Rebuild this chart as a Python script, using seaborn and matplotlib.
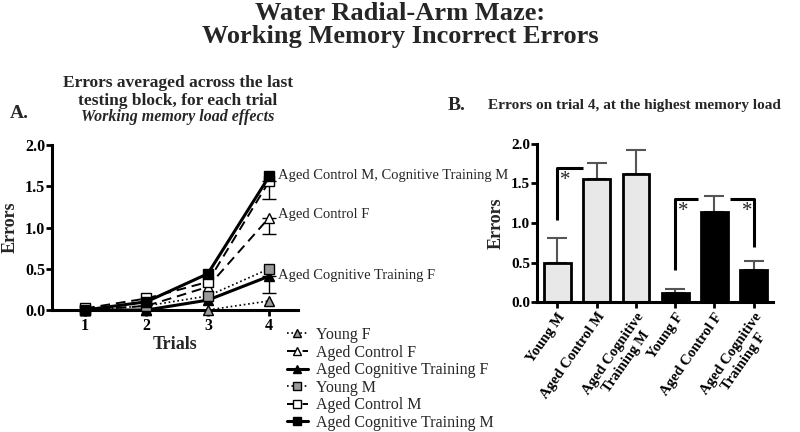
import matplotlib
matplotlib.use("Agg")
import matplotlib.pyplot as plt
import seaborn as sns
import pandas as pd
import numpy as np
from matplotlib.lines import Line2D

# ---------------- data ----------------
trials = [1, 2, 3, 4]
series_names = ["Young F", "Aged Control F", "Aged Cognitive Training F",
                "Young M", "Aged Control M", "Aged Cognitive Training M"]
young_f = [0.0, 0.0, 0.0, 0.11]
aged_control_f = [0.0, 0.05, 0.28, 1.12]
aged_cog_f = [0.0, 0.0, 0.12, 0.41]
young_m = [0.0, 0.05, 0.17, 0.50]
aged_control_m = [0.02, 0.14, 0.34, 1.56]
aged_cog_m = [0.0, 0.10, 0.44, 1.62]
# lower error at trial 4
t4_err_lower = [0.0, 0.20, 0.20, 0.0, 0.22, 0.0]

bar_labels = ["Young M", "Aged Control M", "Aged Cognitive\nTraining M",
              "Young F", "Aged Control F", "Aged Cognitive\nTraining F"]
bar_values = [0.50, 1.56, 1.62, 0.11, 1.14, 0.41]
bar_errors = [0.31, 0.20, 0.30, 0.05, 0.20, 0.11]

# ---------------- style ----------------
sns.set_theme(style="ticks")
plt.rcParams["font.family"] = ["Liberation Serif", "DejaVu Serif"]
plt.rcParams["axes.linewidth"] = 2.2
plt.rcParams["xtick.major.width"] = 2.0
plt.rcParams["ytick.major.width"] = 2.0
plt.rcParams["xtick.major.size"] = 4
plt.rcParams["ytick.major.size"] = 4
plt.rcParams["xtick.major.pad"] = 2
plt.rcParams["ytick.major.pad"] = 1
plt.rcParams["xtick.color"] = "black"
plt.rcParams["ytick.color"] = "black"
plt.rcParams["axes.edgecolor"] = "black"

W, H = 800, 432
fig = plt.figure(figsize=(8, 4.32), dpi=100)


def ftext(x, y, s, **kw):
    fig.text(x / W, 1 - y / H, s, **kw)


ftext(400, 13, "Water Radial-Arm Maze:", ha="center", va="center",
      fontsize=19, fontweight="bold")
ftext(400, 37, "Working Memory Incorrect Errors", ha="center", va="center",
      fontsize=19, fontweight="bold")

# ---------------- panel A ----------------
axA = fig.add_axes([52 / W, 1 - 310 / H, 246 / W, 165 / H])
vals = [young_f, aged_control_f, aged_cog_f, young_m, aged_control_m, aged_cog_m]
styles = [
    dict(ls=":", marker="^", mfc="#9a9a9a", lw=1.2),
    dict(ls=(0, (5, 3)), marker="^", mfc="white", lw=1.4),
    dict(ls="-", marker="^", mfc="black", lw=2.2),
    dict(ls=":", marker="s", mfc="#9a9a9a", lw=1.2),
    dict(ls=(0, (5, 3)), marker="s", mfc="white", lw=1.4),
    dict(ls="-", marker="s", mfc="black", lw=2.2),
]
rows = []
for name, v in zip(series_names, vals):
    for t, y in zip(trials, v):
        rows.append(dict(group=name, trial=t, errors=y))
dfA = pd.DataFrame(rows)

handles = []
for i, (name, st) in enumerate(zip(series_names, styles)):
    sub = dfA[dfA.group == name]
    sns.lineplot(data=sub, x="trial", y="errors", ax=axA, color="black",
                 linestyle=st["ls"], linewidth=st["lw"], marker=st["marker"],
                 markerfacecolor=st["mfc"], markeredgecolor="black",
                 markeredgewidth=1.0, markersize=7, legend=False, clip_on=False,
                 zorder=3 + i)
    if t4_err_lower[i] > 0:
        axA.errorbar([trials[-1]], [vals[i][-1]], yerr=[[t4_err_lower[i]], [0]],
                     fmt="none", ecolor="black", elinewidth=1.0, capsize=5,
                     capthick=1.0, zorder=2)
    handles.append(Line2D([0], [0], color="black", linestyle=st["ls"],
                          linewidth=st["lw"], marker=st["marker"],
                          markerfacecolor=st["mfc"], markeredgecolor="black",
                          markersize=6))

axA.set_xlim(0.46, 4.47)
axA.set_ylim(0, 2.0)
axA.set_xticks(trials)
axA.set_yticks([0, 0.5, 1.0, 1.5, 2.0])
axA.set_yticklabels(["0.0", "0.5", "1.0", "1.5", "2.0"])
for lab in axA.get_xticklabels() + axA.get_yticklabels():
    lab.set_fontweight("bold")
    lab.set_fontsize(11.5)
axA.set_xlabel("Trials", fontsize=13, fontweight="bold", labelpad=1)
axA.set_ylabel("Errors", fontsize=13, fontweight="bold")
axA.yaxis.set_label_coords((19 - 52) / 246, 0.5)
sns.despine(ax=axA)

ann_kw = dict(fontsize=10.5, ha="left", va="center", annotation_clip=False,
              textcoords="offset points")
axA.annotate("Aged Control M, Cognitive Training M", xy=(4, 1.63), xytext=(6, 0), **ann_kw)
axA.annotate("Aged Control F", xy=(4, 1.16), xytext=(6, 0), **ann_kw)
axA.annotate("Aged Cognitive Training F", xy=(4, 0.42), xytext=(6, 0), **ann_kw)

fig.legend(handles, series_names, loc="upper left",
           bbox_to_anchor=(287 / W, 1 - 327 / H),
           frameon=False, fontsize=11.5, handlelength=1.3, handletextpad=0.5,
           labelspacing=0.1, borderpad=0.0, borderaxespad=0.0)

ftext(178, 83, "Errors averaged across the last", ha="center", va="center",
      fontsize=12.5, fontweight="bold")
ftext(178, 101, "testing block, for each trial", ha="center", va="center",
      fontsize=12.5, fontweight="bold")
ftext(178, 117, "Working memory load effects", ha="center", va="center",
      fontsize=11.5, fontweight="bold", style="italic")
ftext(19, 113, "A.", ha="center", va="center", fontsize=14, fontweight="bold")

# ---------------- panel B ----------------
axB = fig.add_axes([537 / W, 1 - 302 / H, 236 / W, 158 / H])
dfB = pd.DataFrame(dict(group=bar_labels, errors=bar_values))
bar_colors = ["#e8e8e8", "#e8e8e8", "#e8e8e8", "black", "black", "black"]
sns.barplot(data=dfB, x="group", y="errors", hue="group", palette=bar_colors,
            ax=axB, width=0.68, edgecolor="black", linewidth=2.0, legend=False,
            errorbar=None, saturation=1)
xpos = np.arange(len(bar_values))
axB.errorbar(xpos, bar_values, yerr=[np.zeros(len(bar_errors)), bar_errors],
             fmt="none", ecolor="#555555", elinewidth=1.5, capsize=7,
             capthick=1.5, zorder=0)
axB.set_xlim(-0.52, 5.49)
axB.set_ylim(0, 2.0)
axB.set_yticks([0, 0.5, 1.0, 1.5, 2.0])
axB.set_yticklabels(["0.0", "0.5", "1.0", "1.5", "2.0"])
axB.set_xticks(xpos)
axB.set_xticklabels(bar_labels, rotation=55, ha="right", rotation_mode="anchor",
                    multialignment="center")
for lab in axB.get_xticklabels():
    lab.set_fontweight("bold")
    lab.set_fontsize(10.5)
for lab in axB.get_yticklabels():
    lab.set_fontweight("bold")
    lab.set_fontsize(11)
axB.tick_params(axis="x", pad=2)
axB.set_xlabel("")
axB.set_ylabel("Errors", fontsize=13, fontweight="bold")
axB.yaxis.set_label_coords((505 - 537) / 236, 0.5)
sns.despine(ax=axB)

# significance brackets
br_kw = dict(color="black", lw=2.2, solid_capstyle="butt", clip_on=False)
axB.plot([0, 0, 0.64], [1.04, 1.70, 1.70], **br_kw)
axB.text(0.21, 1.54, "*", ha="center", va="center", fontsize=15)
axB.plot([3, 3, 3.59], [0.40, 1.30, 1.30], **br_kw)
axB.text(3.21, 1.14, "*", ha="center", va="center", fontsize=15)
axB.plot([4.39, 5, 5], [1.30, 1.30, 0.70], **br_kw)
axB.text(4.83, 1.14, "*", ha="center", va="center", fontsize=15)

ftext(457, 105, "B.", ha="center", va="center", fontsize=14, fontweight="bold")
ftext(488, 106, "Errors on trial 4, at the highest memory load", ha="left",
      va="center", fontsize=11, fontweight="bold")

fig.savefig("out.png", dpi=100)
